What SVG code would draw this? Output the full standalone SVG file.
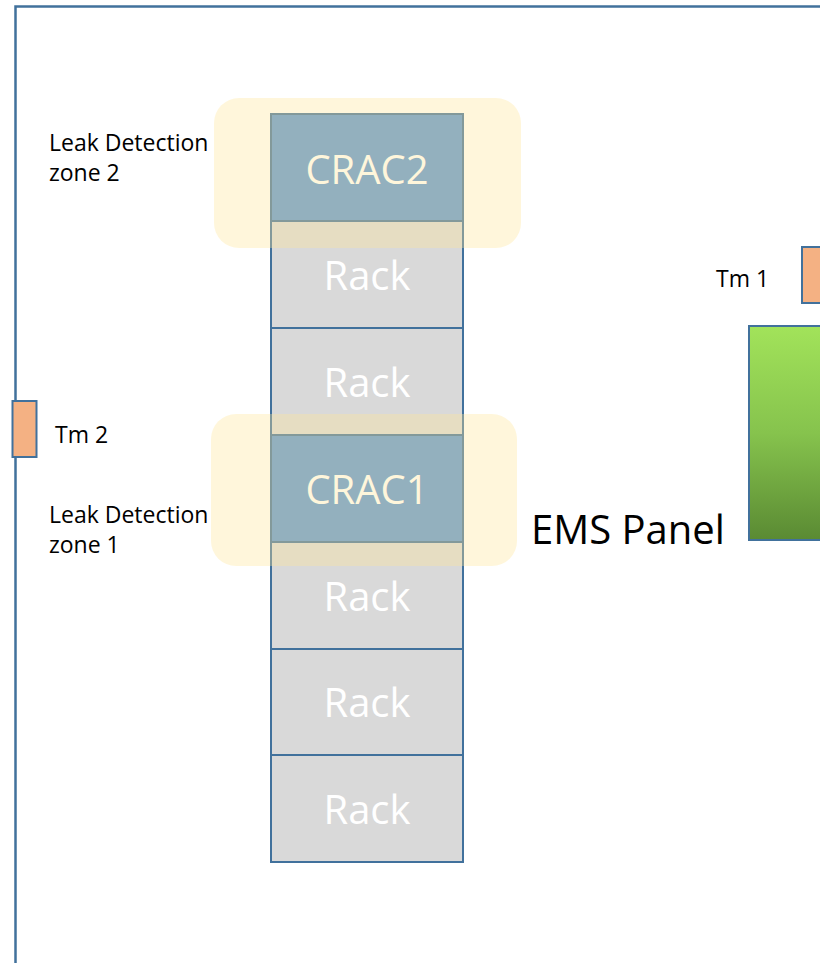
<svg xmlns="http://www.w3.org/2000/svg" width="820" height="963" viewBox="0 0 820 963">
<defs>
<linearGradient id="green" x1="0" y1="0" x2="0" y2="1">
<stop offset="0" stop-color="#A2E35A"/>
<stop offset="0.5" stop-color="#86C34D"/>
<stop offset="1" stop-color="#5A8A33"/>
</linearGradient>
<style>
.frame{fill:none;stroke:#41719C;stroke-width:2.5}
.rack{fill:#D9D9D9;stroke:#41719C;stroke-width:2}
.crac{fill:#5994D3;stroke:#41719C;stroke-width:2}
.big{font-family:"Open Sans","Noto Sans",sans-serif;font-size:40px;fill:#FFFFFF;text-anchor:middle}
.lbl{font-family:"Open Sans","Noto Sans",sans-serif;font-size:23px;fill:#000000}
.ems{font-family:"Open Sans","Noto Sans",sans-serif;font-size:40px;fill:#000000}
.zone{fill:#FFE699;fill-opacity:0.35}
.tm{fill:#F4B183;stroke:#41719C;stroke-width:2}
</style>
</defs>
<rect width="820" height="963" fill="#FFFFFF"/>
<g id="room">
<path class="frame" d="M15.5,963 L15.5,6.5 L822,6.5"/>
</g>
<g id="rack-stack">
<g id="crac2"><rect class="crac" x="271" y="114" width="192" height="107"/><text class="big" x="367" y="184">CRAC2</text></g>
<g id="rack1"><rect class="rack" x="271" y="221" width="192" height="107"/><text class="big" x="367" y="290">Rack</text></g>
<g id="rack2"><rect class="rack" x="271" y="328" width="192" height="107"/><text class="big" x="367" y="397">Rack</text></g>
<g id="crac1"><rect class="crac" x="271" y="435" width="192" height="107"/><text class="big" x="367" y="504">CRAC1</text></g>
<g id="rack3"><rect class="rack" x="271" y="542" width="192" height="107"/><text class="big" x="367" y="611">Rack</text></g>
<g id="rack4"><rect class="rack" x="271" y="649" width="192" height="106"/><text class="big" x="367" y="717">Rack</text></g>
<g id="rack5"><rect class="rack" x="271" y="755" width="192" height="107"/><text class="big" x="367" y="824">Rack</text></g>
</g>
<g id="zone2">
<rect class="zone" x="214" y="98" width="307" height="150" rx="25"/>
<text class="lbl" x="49" y="151">Leak Detection</text>
<text class="lbl" x="49" y="181">zone 2</text>
</g>
<g id="zone1">
<rect class="zone" x="211" y="414" width="306" height="152" rx="25"/>
<text class="lbl" x="49" y="523">Leak Detection</text>
<text class="lbl" x="49" y="553">zone 1</text>
</g>
<g id="tm2">
<rect class="tm" x="12.5" y="401" width="24" height="56"/>
<text class="lbl" x="55" y="443">Tm 2</text>
</g>
<g id="tm1">
<rect class="tm" x="802" y="247" width="30" height="56"/>
<text class="lbl" x="716" y="287">Tm 1</text>
</g>
<g id="ems-panel">
<rect x="749" y="326" width="90" height="214" fill="url(#green)" stroke="#41719C" stroke-width="2"/>
<text class="ems" x="531" y="544">EMS Panel</text>
</g>
<g id="connectors"/>
</svg>
